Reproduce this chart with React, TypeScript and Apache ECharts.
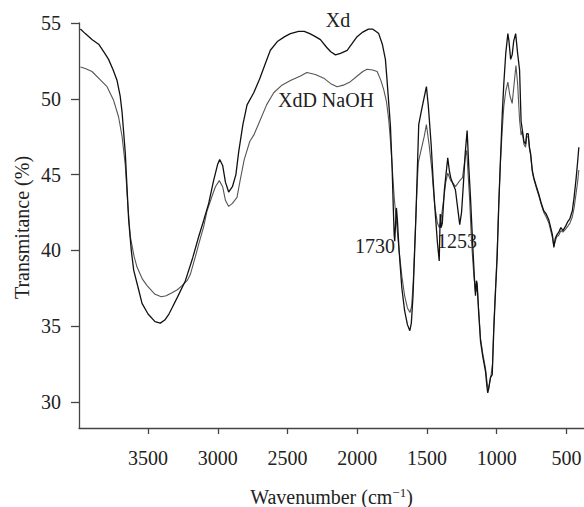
import React, { useEffect, useRef } from "react";
import * as echarts from "echarts";

const xdWave = [3985, 3950, 3900, 3854, 3810, 3783, 3750, 3722, 3700, 3686, 3663, 3639, 3620, 3603, 3570, 3543, 3500, 3450, 3412, 3380, 3350, 3328, 3290, 3232, 3180, 3137, 3100, 3065, 3030, 3000, 2986, 2965, 2945, 2922, 2895, 2870, 2850, 2820, 2790, 2742, 2700, 2660, 2623, 2570, 2520, 2479, 2420, 2380, 2340, 2300, 2264, 2220, 2190, 2156, 2120, 2072, 2040, 2001, 1960, 1920, 1890, 1860, 1846, 1820, 1798, 1786, 1774, 1762, 1750, 1742, 1735, 1731, 1725, 1719, 1712, 1700, 1680, 1660, 1640, 1623, 1612, 1600, 1590, 1580, 1570, 1559, 1540, 1520, 1504, 1490, 1470, 1455, 1440, 1425, 1412, 1405, 1398, 1390, 1375, 1351, 1340, 1330, 1310, 1296, 1280, 1265, 1252, 1240, 1225, 1212, 1200, 1188, 1170, 1160, 1152, 1145, 1140, 1130, 1116, 1100, 1080, 1070, 1064, 1055, 1045, 1032, 1021, 1010, 997, 985, 973, 960, 949, 935, 920, 912, 900, 889, 878, 864, 850, 836, 825, 817, 805, 793, 785, 774, 765, 757, 745, 734, 715, 698, 680, 662, 645, 626, 610, 600, 590, 580, 570, 555, 540, 525, 506, 490, 475, 458, 445, 430, 420, 411];
const xdValues = [54.6, 54.3, 53.9, 53.6, 53.0, 52.6, 51.9, 51.2, 50.2, 49.1, 46.4, 42.0, 40.0, 38.7, 37.5, 36.5, 35.8, 35.3, 35.2, 35.4, 35.8, 36.2, 36.9, 38.0, 39.5, 40.9, 42.0, 43.1, 44.6, 45.7, 46.0, 45.6, 44.5, 43.85, 44.2, 45.0, 46.5, 48.3, 49.6, 50.4, 51.3, 52.3, 53.2, 53.8, 54.1, 54.3, 54.45, 54.45, 54.3, 54.1, 53.9, 53.4, 53.1, 52.9, 53.0, 53.2, 53.6, 54.1, 54.4, 54.6, 54.6, 54.4, 54.3, 53.6, 52.6, 51.2, 49.7, 48.2, 45.5, 43.0, 41.0, 40.6, 41.8, 42.8, 42.0, 40.0, 37.5, 36.0, 35.1, 34.7, 35.2, 37.0, 39.5, 42.0, 45.0, 48.3, 49.2, 50.1, 50.8, 49.5, 47.0, 44.5, 42.4, 40.5, 39.3, 42.4, 41.5, 41.8, 44.0, 46.1, 45.3, 44.8, 44.3, 44.0, 42.8, 41.7, 42.5, 44.2, 46.5, 47.9, 45.5, 43.5, 40.0, 38.2, 37.0, 38.0, 37.8, 36.0, 34.0, 33.0, 32.0, 31.0, 30.6, 31.0, 31.6, 31.8, 34.7, 37.0, 39.5, 43.0, 46.0, 49.0, 51.0, 53.0, 54.3, 53.8, 52.6, 52.9, 53.8, 54.3, 53.0, 51.9, 48.5, 48.0, 47.2, 47.0, 47.7, 47.7, 46.8, 46.4, 45.3, 44.8, 44.2, 43.7, 43.1, 42.6, 42.4, 42.0, 41.4, 41.0, 40.2, 40.8, 41.0, 41.2, 41.5, 41.3, 41.6, 41.9, 42.1, 42.6, 43.5, 44.8, 45.8, 46.8];

const naohWave = [3985, 3950, 3902, 3842, 3794, 3747, 3711, 3686, 3663, 3645, 3627, 3600, 3579, 3540, 3507, 3450, 3405, 3370, 3328, 3290, 3256, 3220, 3197, 3160, 3137, 3100, 3077, 3040, 3017, 2989, 2965, 2945, 2922, 2895, 2862, 2840, 2810, 2770, 2742, 2700, 2650, 2599, 2540, 2479, 2407, 2361, 2300, 2240, 2190, 2144, 2100, 2049, 2000, 1960, 1929, 1890, 1857, 1830, 1810, 1790, 1774, 1760, 1748, 1735, 1720, 1700, 1680, 1660, 1640, 1622, 1610, 1598, 1585, 1572, 1562, 1545, 1520, 1504, 1485, 1465, 1445, 1425, 1412, 1400, 1385, 1365, 1351, 1330, 1310, 1296, 1280, 1265, 1245, 1225, 1215, 1205, 1195, 1180, 1165, 1152, 1140, 1130, 1116, 1100, 1080, 1068, 1060, 1050, 1040, 1030, 1021, 1010, 997, 985, 973, 960, 949, 935, 920, 905, 889, 875, 862, 850, 836, 825, 817, 805, 793, 785, 774, 765, 757, 745, 734, 715, 698, 680, 662, 645, 626, 610, 600, 590, 580, 570, 555, 540, 525, 506, 490, 475, 458, 445, 430, 420, 411];
const naohValues = [52.1, 52.0, 51.8, 51.25, 50.8, 49.9, 48.8, 47.5, 45.6, 43.0, 40.9, 39.6, 38.9, 38.1, 37.67, 37.1, 36.94, 37.0, 37.2, 37.4, 37.67, 38.0, 38.4, 39.6, 40.4, 41.6, 42.6, 43.6, 44.2, 44.6, 44.2, 43.3, 42.9, 43.1, 43.5, 44.6, 46.0, 47.2, 47.6, 48.5, 49.6, 50.4, 50.9, 51.2, 51.5, 51.73, 51.6, 51.36, 51.0, 50.8, 50.9, 51.13, 51.5, 51.8, 51.95, 51.9, 51.8, 51.2, 50.6, 49.8, 48.6, 47.0, 45.3, 43.5, 42.0, 40.0, 38.3, 37.0, 36.2, 35.9, 36.3, 38.0, 41.0, 44.0, 45.8, 46.5, 47.5, 48.3, 47.0, 45.3, 43.0, 41.8, 41.5, 42.0, 43.0, 44.5, 45.1, 44.6, 44.4, 44.2, 44.4, 44.6, 44.8, 46.2, 46.6, 45.0, 43.5, 40.5, 38.5, 37.2, 37.6, 36.2, 34.2, 33.2, 32.2, 31.2, 30.8, 31.3, 31.8, 32.5, 35.0, 37.2, 39.8, 43.2, 45.8, 48.0, 49.5, 50.5, 51.1, 50.2, 49.7, 51.0, 52.2, 51.0, 48.6, 47.6, 47.9, 47.0, 46.8, 47.5, 47.5, 46.7, 46.3, 45.2, 44.7, 44.1, 43.6, 43.0, 42.5, 42.2, 41.8, 41.2, 40.8, 40.3, 40.6, 40.9, 41.0, 41.3, 41.2, 41.4, 41.6, 41.8, 42.2, 42.8, 43.8, 44.5, 45.3];

const xTicks = [500, 1000, 1500, 2000, 2500, 3000, 3500];
const yTicks = [30, 35, 40, 45, 50, 55];
const seriesNames = ["Xd", "XdD NaOH"];
const peakLabels = ["1730", "1253"];
const xTitle = "Wavenumber (cm{sup|−1})";
const yTitle = "Transmitance (%)";

const FONT = "Liberation Serif";
const INK = "#222";

export default function App() {
  const ref = useRef<HTMLDivElement>(null);
  useEffect(() => {
    const chart = echarts.init(ref.current!, null, { renderer: "svg" });
    const text = (x: number, y: number, t: string, align = "center", extra: any = {}) => ({
      type: "text",
      x,
      y,
      silent: true,
      ...extra,
      style: {
        text: t,
        fontFamily: FONT,
        fontSize: 20,
        fill: INK,
        textAlign: align,
        textVerticalAlign: "middle",
        ...(extra.style || {}),
      },
    });
    chart.setOption({
      animation: false,
      backgroundColor: "#fff",
      textStyle: { fontFamily: FONT },
      grid: { left: 79, top: 23, right: 0, bottom: 79, containLabel: false, outerBoundsMode: "none" },
      xAxis: {
        type: "value",
        inverse: true,
        min: 374,
        max: 3995,
        axisLine: { show: true, lineStyle: { color: "#444", width: 1.3 } },
        axisTick: { show: true, length: 6, customValues: xTicks, lineStyle: { color: "#444", width: 1.3 } },
        axisLabel: { show: false },
        splitLine: { show: false },
      },
      yAxis: {
        type: "value",
        min: 28.28,
        max: 55,
        axisLine: { show: true, lineStyle: { color: "#444", width: 1.3 } },
        axisTick: { show: true, length: 8, customValues: yTicks, lineStyle: { color: "#444", width: 1.3 } },
        axisLabel: { show: false },
        splitLine: { show: false },
      },
      series: [
        {
          name: seriesNames[0],
          type: "line",
          showSymbol: false,
          data: xdWave.map((w, i) => [w, xdValues[i]]),
          lineStyle: { color: "#111", width: 1.3 },
          z: 3,
        },
        {
          name: seriesNames[1],
          type: "line",
          showSymbol: false,
          data: naohWave.map((w, i) => [w, naohValues[i]]),
          lineStyle: { color: "#555", width: 1.1 },
          z: 2,
        },
      ],
    });

    const axisY = chart.convertToPixel({ yAxisIndex: 0 }, 28.28) as number;
    const axisX = chart.convertToPixel({ xAxisIndex: 0 }, 3995) as number;
    const xRight = chart.convertToPixel({ xAxisIndex: 0 }, 374) as number;
    const yTop = chart.convertToPixel({ yAxisIndex: 0 }, 55) as number;

    const graphics: any[] = [];
    xTicks.forEach((v) => {
      const px = chart.convertToPixel({ xAxisIndex: 0 }, v) as number;
      graphics.push(text(px, axisY + 30, String(v)));
    });
    yTicks.forEach((v) => {
      const py = chart.convertToPixel({ yAxisIndex: 0 }, v) as number;
      graphics.push(text(axisX - 18, py, String(v), "right"));
    });
    graphics.push(
      text((axisX + xRight) / 2, 497, xTitle, "center", {
        style: {
          rich: {
            sup: { fontFamily: FONT, fontSize: 13, fill: INK, verticalAlign: "top", padding: [0, 0, 9, 0] },
          },
        },
      })
    );
    graphics.push(
      text(22, (axisY + yTop) / 2 + 2, yTitle, "center", { rotation: Math.PI / 2 })
    );
    graphics.push(text(338, 20, seriesNames[0]));
    graphics.push(text(326, 100, seriesNames[1]));
    graphics.push(text(375, 246, peakLabels[0]));
    graphics.push(text(457, 241, peakLabels[1]));

    chart.setOption({ graphic: graphics });
    return () => chart.dispose();
  }, []);
  return <div ref={ref} style={{ position: "fixed", left: 0, top: 0, width: 584, height: 507 }} />;
}
